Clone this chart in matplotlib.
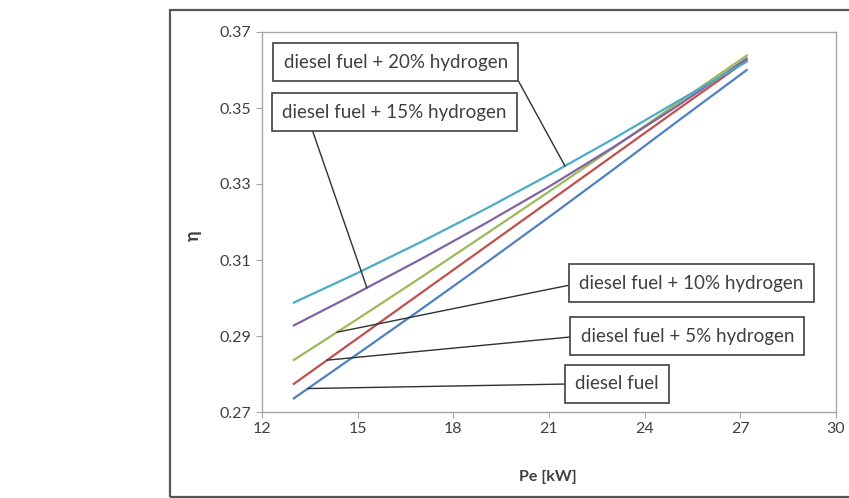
import matplotlib
matplotlib.use("Agg")
import matplotlib.pyplot as plt
from matplotlib.patches import Rectangle
import numpy as np

# load points Pe [kW] and efficiency per fuel mix
pe = [13, 15, 17, 19, 21, 23, 25, 27.2]
eta_diesel = [0.2736, 0.2853, 0.2971, 0.3091, 0.3213, 0.3337, 0.3463, 0.3600]
eta_h5 = [0.2774, 0.2894, 0.3014, 0.3134, 0.3254, 0.3374, 0.3494, 0.3625]
eta_h10 = [0.2837, 0.2945, 0.3055, 0.3167, 0.3280, 0.3394, 0.3511, 0.3638]
eta_h15 = [0.2928, 0.3014, 0.3103, 0.3196, 0.3293, 0.3396, 0.3504, 0.3630]
eta_h20 = [0.2988, 0.3066, 0.3148, 0.3234, 0.3324, 0.3418, 0.3516, 0.3622]

labels = [
    "diesel fuel",
    "diesel fuel + 5% hydrogen",
    "diesel fuel + 10% hydrogen",
    "diesel fuel + 15% hydrogen",
    "diesel fuel + 20% hydrogen",
]
x_ticks = [12, 15, 18, 21, 24, 27, 30]
y_ticks = [0.27, 0.29, 0.31, 0.33, 0.35, 0.37]

colors = ["#4F81BD", "#C0504D", "#9BBB59", "#8064A2", "#4BACC6"]
series = [eta_diesel, eta_h5, eta_h10, eta_h15, eta_h20]

# callout placement: (x on curve, text x, text y, relpos on box)
callouts = [
    (13.44, 23.14, 0.2774, (0.0, 0.5)),
    (14.04, 25.34, 0.2900, (0.0, 0.5)),
    (14.35, 25.46, 0.3039, (0.0, 0.5)),
    (15.29, 16.15, 0.3489, (0.12, 0.0)),
    (21.50, 16.20, 0.3621, (1.0, 0.5)),
]

plt.rcParams["font.family"] = ["Lato", "DejaVu Sans"]

fig = plt.figure(figsize=(8.49, 4.98), dpi=100)
ax = fig.add_axes([262 / 849, 1 - 412 / 498, (836 - 262) / 849, (412 - 32) / 498])

for ys, c in zip(series, colors):
    ax.plot(pe, ys, color=c, linewidth=1.6)

for ys, lab, (xc, tx, ty, rp) in zip(series, labels, callouts):
    yc = np.interp(xc, pe, ys)
    ax.annotate(
        lab, xy=(xc, yc), xytext=(tx, ty), ha="center", va="center",
        fontsize=13.5, color="#404040",
        bbox=dict(boxstyle="square,pad=0.55", fc="white", ec="#404040", lw=1.2),
        arrowprops=dict(arrowstyle="-", color="#303030", lw=1.0, relpos=rp,
                        shrinkA=0, shrinkB=0),
    )

ax.set_xlim(12, 30)
ax.set_ylim(0.27, 0.37)
ax.set_xticks(x_ticks)
ax.set_yticks(y_ticks)
ax.set_yticklabels([f"{v:.2f}" for v in y_ticks])
for s in ax.spines.values():
    s.set_color("#a6a6a6")
    s.set_linewidth(1.0)
ax.tick_params(colors="#a6a6a6", labelcolor="#404040", labelsize=11.5, length=4, direction="out")

fig.text(548 / 849, 1 - 477 / 498, "Pe [kW]", ha="center", va="center",
         fontsize=11.5, fontweight="bold", color="#404040")
fig.text(193 / 849, 1 - 236 / 498, "η", ha="center", va="center", rotation=90,
         fontsize=13, fontweight="bold", color="#404040")

# outer chart frame
fig.patches.append(Rectangle((170 / 849, 1 - 497 / 498), 1.0, (497 - 10) / 498,
                             transform=fig.transFigure, fill=False,
                             ec="#555555", lw=1.6))

fig.savefig("out.png", dpi=100)
